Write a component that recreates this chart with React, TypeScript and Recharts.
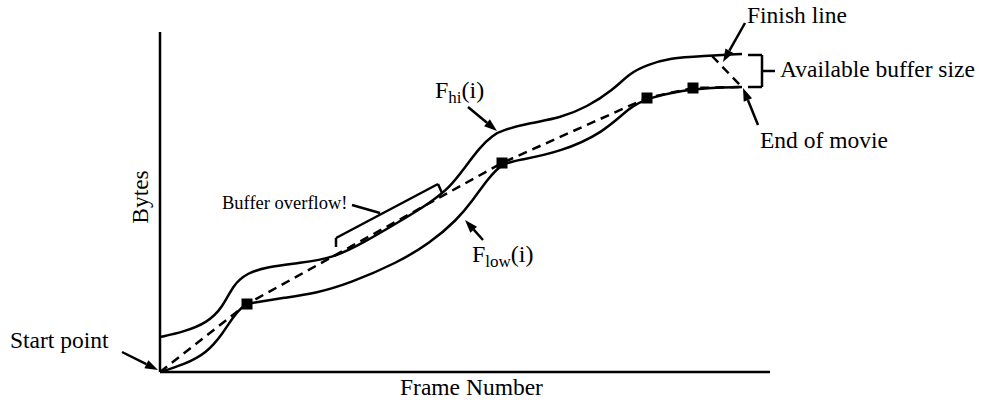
import React from 'react';
import {
  ComposedChart, Line, Scatter, XAxis, YAxis, ReferenceLine, ReferenceDot,
} from 'recharts';

// frames on x, bytes on y
const FHI = [
  { x: 0, y: 35 }, { x: 23, y: 40 }, { x: 47, y: 49 }, { x: 63, y: 65 }, { x: 73, y: 87 },
  { x: 87, y: 99 }, { x: 107, y: 105 }, { x: 140, y: 109 }, { x: 173, y: 114 }, { x: 203, y: 129 },
  { x: 237, y: 149 }, { x: 270, y: 169 }, { x: 290, y: 185 }, { x: 303, y: 202 }, { x: 320, y: 225 },
  { x: 333, y: 237 }, { x: 343, y: 242 }, { x: 370, y: 249 }, { x: 400, y: 254 }, { x: 427, y: 265 },
  { x: 453, y: 282 }, { x: 470, y: 299 }, { x: 487, y: 307 }, { x: 510, y: 314 }, { x: 543, y: 316 },
  { x: 582, y: 318 },
];

const FLOW = [
  { x: 0, y: 0 }, { x: 23, y: 7 }, { x: 47, y: 19 }, { x: 63, y: 39 }, { x: 73, y: 55 },
  { x: 82, y: 65 }, { x: 87, y: 68 }, { x: 97, y: 70 }, { x: 123, y: 74 }, { x: 157, y: 79 },
  { x: 190, y: 89 }, { x: 237, y: 109 }, { x: 270, y: 129 }, { x: 297, y: 152 }, { x: 313, y: 172 },
  { x: 327, y: 192 }, { x: 342, y: 209 }, { x: 360, y: 212 }, { x: 400, y: 220 }, { x: 443, y: 239 },
  { x: 470, y: 265 }, { x: 487, y: 274 }, { x: 533, y: 284 }, { x: 582, y: 285 },
];

const SCHEDULE = [
  { x: 0, y: 0 }, { x: 87, y: 68 }, { x: 342, y: 209 }, { x: 487, y: 274 }, { x: 533, y: 284 }, { x: 582, y: 285 },
];

const KNOTS = [
  { x: 87, y: 68 }, { x: 342, y: 209 }, { x: 487, y: 274 }, { x: 533, y: 284 },
];

// annotation arrows: tail -> tip
const ARROWS = [
  [{ x: -38, y: 20 }, { x: -2, y: 2 }],
  [{ x: 308, y: 265 }, { x: 337, y: 241 }],
  [{ x: 323, y: 132 }, { x: 305, y: 152 }],
  [{ x: 585, y: 349 }, { x: 563, y: 310 }],
  [{ x: 598, y: 247 }, { x: 583, y: 284 }],
];

// plain strokes: overflow bracket, its leader, buffer bracket
const STROKES = [
  [{ x: 176, y: 125 }, { x: 176, y: 134 }],
  [{ x: 176, y: 134 }, { x: 278, y: 188 }],
  [{ x: 278, y: 188 }, { x: 282, y: 179 }],
  [{ x: 192, y: 167 }, { x: 220, y: 159 }],
  [{ x: 588, y: 317 }, { x: 602, y: 317 }],
  [{ x: 602, y: 317 }, { x: 602, y: 285 }],
  [{ x: 602, y: 285 }, { x: 588, y: 285 }],
  [{ x: 602, y: 301 }, { x: 615, y: 301 }],
];

const FINISH_LINE = [{ x: 552, y: 316 }, { x: 582, y: 285 }];

const LABELS = [
  { x: 587, y: 349, text: 'Finish line' },
  { x: 620, y: 295, text: 'Available buffer size' },
  { x: 600, y: 224, text: 'End of movie' },
  { x: -150, y: 24, text: 'Start point' },
  { x: 240, y: -23, text: 'Frame Number' },
];

const FONT = '"Liberation Serif", "DejaVu Serif", serif';

const Arrow = (p: any) => {
  const { x1, y1, x2, y2 } = p;
  const a = Math.atan2(y2 - y1, x2 - x1);
  const len = 13, w = 4.5;
  const bx = x2 - len * Math.cos(a), by = y2 - len * Math.sin(a);
  const pts = [
    `${x2},${y2}`,
    `${bx + w * Math.sin(a)},${by - w * Math.cos(a)}`,
    `${bx - w * Math.sin(a)},${by + w * Math.cos(a)}`,
  ].join(' ');
  return (
    <g>
      <line x1={x1} y1={y1} x2={bx} y2={by} stroke="#000" strokeWidth={2.5} />
      <polygon points={pts} fill="#000" />
    </g>
  );
};

const Square = (p: any) => (
  <rect x={p.cx - 5.5} y={p.cy - 5.5} width={11} height={11} fill="#000" />
);

const textAt = (content: React.ReactNode, size = 23.5, extra: any = {}) => (p: any) => (
  <text x={p.cx} y={p.cy} fontFamily={FONT} fontSize={size} fill="#000" {...extra}>
    {content}
  </text>
);

export default function App() {
  return (
    <div style={{ position: 'absolute', left: 0, top: 0, background: '#fff' }}>
      <ComposedChart width={982} height={400} margin={{ top: 32, right: 212, bottom: 0, left: 0 }}>
        <XAxis type="number" dataKey="x" domain={[0, 610]} height={28} tick={false} tickLine={false}
          axisLine={{ stroke: '#000', strokeWidth: 2.5 }} />
        <YAxis type="number" dataKey="y" domain={[0, 340]} width={160} tick={false} tickLine={false}
          axisLine={{ stroke: '#000', strokeWidth: 2.5 }} />

        <Line data={FHI} dataKey="y" type="basis" stroke="#000" strokeWidth={2.5} dot={false} isAnimationActive={false} />
        <Line data={FLOW} dataKey="y" type="basis" stroke="#000" strokeWidth={2.5} dot={false} isAnimationActive={false} />
        <Line data={SCHEDULE} dataKey="y" type="linear" stroke="#000" strokeWidth={2.5} strokeDasharray="9 6"
          dot={false} isAnimationActive={false} />
        <Scatter data={KNOTS} dataKey="y" shape={Square} isAnimationActive={false} />

        <ReferenceLine segment={FINISH_LINE} ifOverflow="visible" stroke="#000" strokeWidth={2.5} strokeDasharray="9 6" />
        {STROKES.map((s, i) => (
          <ReferenceLine key={`s${i}`} segment={s} ifOverflow="visible" stroke="#000" strokeWidth={2.5} />
        ))}
        {ARROWS.map((s, i) => (
          <ReferenceLine key={`a${i}`} segment={s} ifOverflow="visible" shape={Arrow} />
        ))}

        {LABELS.map((l) => (
          <ReferenceDot key={l.text} x={l.x} y={l.y} r={0} ifOverflow="visible" shape={textAt(l.text)} />
        ))}
        <ReferenceDot x={62} y={163} r={0} ifOverflow="visible" shape={textAt('Buffer overflow!', 18.5)} />
        <ReferenceDot x={-12} y={175} r={0} ifOverflow="visible"
          shape={(p: any) => (
            <text x={p.cx} y={p.cy} transform={`rotate(-90 ${p.cx} ${p.cy})`} textAnchor="middle"
              fontFamily={FONT} fontSize={23.5} fill="#000">Bytes</text>
          )} />
        <ReferenceDot x={275} y={274} r={0} ifOverflow="visible"
          shape={textAt(<>F<tspan fontSize={17} dy={5}>hi</tspan><tspan dy={-5}>(i)</tspan></>, 24)} />
        <ReferenceDot x={312} y={110} r={0} ifOverflow="visible"
          shape={textAt(<>F<tspan fontSize={17} dy={5}>low</tspan><tspan dy={-5}>(i)</tspan></>, 24)} />
      </ComposedChart>
    </div>
  );
}
